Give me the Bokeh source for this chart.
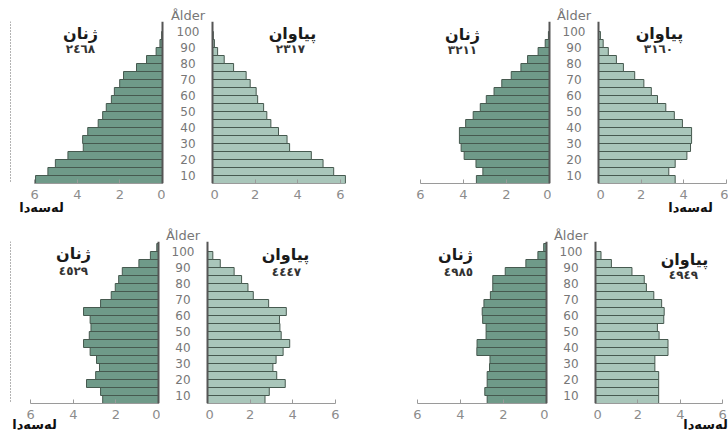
from bokeh.plotting import figure
from bokeh.models import Range1d, FixedTicker, Label, Span, ColumnDataSource, LinearAxis
from bokeh.core.properties import value
from bokeh.layouts import row, column
from bokeh.embed import file_html
from bokeh.resources import INLINE

# ---------------- data ----------------
age_group_start = [5, 10, 15, 20, 25, 30, 35, 40, 45, 50,
                   55, 60, 65, 70, 75, 80, 85, 90, 95, 100]
age_ticks = [10, 20, 30, 40, 50, 60, 70, 80, 90, 100]
pct_ticks = [0, 2, 4, 6]

women_1 = [5.96, 5.38, 5.03, 4.44, 3.72, 3.75, 3.51, 3.02, 2.81, 2.64,
           2.40, 2.26, 2.01, 1.83, 1.22, 0.75, 0.30, 0.12, 0.04, 0.0]
men_1 = [6.24, 5.69, 5.19, 4.64, 3.62, 3.50, 3.10, 2.74, 2.55, 2.40,
         2.12, 2.05, 1.77, 1.58, 0.99, 0.55, 0.24, 0.09, 0.04, 0.0]
women_2 = [3.40, 3.10, 3.42, 3.97, 4.11, 4.19, 4.19, 3.90, 3.55, 3.22,
           2.94, 2.58, 2.22, 1.78, 1.33, 1.02, 0.53, 0.20, 0.05, 0.0]
men_2 = [3.60, 3.30, 3.60, 4.15, 4.32, 4.37, 4.37, 3.94, 3.56, 3.16,
         2.77, 2.48, 2.13, 1.70, 1.17, 0.84, 0.46, 0.22, 0.09, 0.0]
women_3 = [2.62, 2.72, 3.38, 2.95, 2.77, 2.91, 3.21, 3.52, 3.25, 3.17,
           3.21, 3.52, 2.72, 2.22, 2.03, 1.87, 1.70, 0.92, 0.38, 0.08]
men_3 = [2.70, 2.90, 3.65, 3.25, 3.07, 3.22, 3.55, 3.86, 3.46, 3.40,
         3.38, 3.70, 2.87, 2.15, 1.90, 1.60, 1.25, 0.60, 0.25, 0.0]
women_4 = [2.76, 2.87, 2.76, 2.76, 2.65, 2.63, 3.24, 3.23, 2.81, 2.81,
           2.97, 2.99, 2.91, 2.61, 2.50, 2.50, 1.92, 0.96, 0.40, 0.13]
men_4 = [2.98, 2.98, 2.98, 2.98, 2.80, 2.80, 3.42, 3.42, 3.00, 2.92,
         3.22, 3.24, 3.12, 2.75, 2.40, 2.30, 1.72, 0.75, 0.26, 0.0]

women_totals = ["٢٤٦٨", "٣٢١١", "٤٥٢٩", "٤٩٨٥"]
men_totals = ["٢٣١٧", "٣١٦٠", "٤٤٤٧", "٤٩٤٩"]
women_title = "ژنان"
men_title = "پیاوان"
age_title = "Ålder"
unit_title = "لەسەدا"

# ---------------- style ----------------
WOMEN_FILL = "#6f9a89"
MEN_FILL = "#a9c6ba"
BAR_LINE = "#46594f"
VLINE = "#555555"
AXIS_GREY = "#9a9a9a"
PX_PER_YEAR = 1.6
Y_START = age_group_start[0]
GROUP = age_group_start[1] - age_group_start[0]
NUM_FONT = "DejaVu Sans"
AR_FONT = "DejaVu Sans"


def base_fig(width, height, xr, yr, top, bottom, title=""):
    p = figure(width=width, height=height, x_range=xr, y_range=yr,
               output_backend="svg", toolbar_location=None, title=title,
               x_axis_location=None, y_axis_location=None,
               min_border_left=0, min_border_right=0, min_border_top=top,
               min_border_bottom=bottom)
    p.outline_line_color = None
    p.background_fill_color = "white"
    p.border_fill_color = "white"
    p.grid.visible = False
    return p


def half_figure(values, fill, canvas, zero, scale, row_top, row_h, frame_top, frame_bottom,
                side, unit_px, unit_standoff, border_px=None):
    sgn = -1 if side == "w" else 1
    xr = Range1d(start=sgn * (canvas[0] - zero) / scale, end=sgn * (canvas[1] - zero) / scale)
    yr = Range1d(Y_START, Y_START + (frame_bottom - frame_top) / PX_PER_YEAR)
    p = base_fig(canvas[1] - canvas[0], row_h, xr, yr,
                 frame_top - row_top, row_top + row_h - frame_bottom)

    src = ColumnDataSource(dict(y=[a + GROUP / 2 for a in age_group_start], v=values))
    p.hbar(y="y", height=GROUP, left=0, right="v", source=src,
           fill_color=fill, line_color=BAR_LINE, line_width=1)

    ax = LinearAxis(ticker=FixedTicker(ticks=pct_ticks), bounds=(min(pct_ticks), max(pct_ticks)))
    ax.major_tick_in = 4
    ax.major_tick_out = 0
    ax.minor_tick_line_color = None
    ax.axis_line_color = AXIS_GREY
    ax.major_tick_line_color = AXIS_GREY
    ax.major_label_text_color = "#8c8c8c"
    ax.major_label_text_font = NUM_FONT
    ax.major_label_text_font_size = "13px"
    ax.major_label_standoff = 6
    p.add_layout(ax, "below")

    if unit_px is not None:
        ux = sgn * (unit_px - zero) / scale
        ax2 = LinearAxis(ticker=FixedTicker(ticks=[ux]), major_label_overrides={ux: unit_title})
        ax2.axis_line_color = None
        ax2.major_tick_line_color = None
        ax2.minor_tick_line_color = None
        ax2.major_tick_in = 0
        ax2.major_tick_out = 0
        ax2.major_label_text_font = AR_FONT
        ax2.major_label_text_font_style = "bold"
        ax2.major_label_text_font_size = "13px"
        ax2.major_label_text_color = "#111111"
        ax2.major_label_standoff = unit_standoff
        p.add_layout(ax2, "below")

    p.add_layout(Span(location=0, dimension="height", line_color=VLINE, line_width=2))
    if border_px is not None:
        p.add_layout(Span(location=sgn * (border_px - zero) / scale, dimension="height",
                          line_color="#666666", line_width=1, line_dash="1 2"))

    def to_data(px, py):
        return sgn * (px - zero) / scale, Y_START + (frame_bottom - py) / PX_PER_YEAR

    return p, to_data


def mid_figure(canvas, row_top, row_h, frame_top, frame_bottom):
    xr = Range1d(canvas[0], canvas[1])
    yr = Range1d(Y_START, Y_START + (frame_bottom - frame_top) / PX_PER_YEAR)
    p = base_fig(canvas[1] - canvas[0], row_h, xr, yr,
                 frame_top - row_top, row_top + row_h - frame_bottom, title=age_title)
    p.title.align = "center"
    p.title.text_font = NUM_FONT
    p.title.text_font_size = "13px"
    p.title.text_font_style = "normal"
    p.title.text_color = "#777777"
    p.title.standoff = -3
    p.title.offset = 2
    cx = (canvas[0] + canvas[1]) / 2
    src = ColumnDataSource(dict(y=age_ticks, t=[str(a) for a in age_ticks]))
    p.text(x=cx, y="y", text="t", source=src, text_align="center", text_baseline="middle",
           text_font=value(NUM_FONT), text_font_size="12px", text_color="#777777")
    return p


def add_text(p, conv, pos, text, size, color="#1a1a1a"):
    x, y = conv(*pos)
    p.add_layout(Label(x=x, y=y, text=text, text_align="center", text_baseline="middle",
                       text_font=AR_FONT, text_font_size=size, text_font_style="bold",
                       text_color=color))


ROW_H = [220, 214]
ROW_TOP = [0, 220]
FRAME_TOP = [21, 241]
FRAME_BOTTOM = [183, 403]

panels = [
    dict(women=women_1, men=men_1, r=0,
         wc=(0, 165), wz=162, ws=21.3, mid=(165, 210), mc=(210, 360), mz=212, ms=21.3,
         w_title=(80, 33), w_num=(80, 48), m_title=(292, 33), m_num=(290, 48),
         unit=(41, "w"), ustand=-2, border=10),
    dict(women=women_2, men=men_2, r=0,
         wc=(360, 551), wz=549, ws=21.5, mid=(551, 596), mc=(596, 728), mz=598, ms=21.3,
         w_title=(462, 34), w_num=(462, 49), m_title=(659, 33), m_num=(658, 48),
         unit=(690, "m"), ustand=-2, border=None),
    dict(women=women_3, men=men_3, r=1,
         wc=(0, 160), wz=158, ws=21.3, mid=(160, 205), mc=(205, 360), mz=207, ms=21.3,
         w_title=(73, 253), w_num=(73, 270), m_title=(285, 254), m_num=(286, 271),
         unit=(34, "w"), ustand=-5, border=10),
    dict(women=women_4, men=men_4, r=1,
         wc=(360, 548), wz=546, ws=21.5, mid=(548, 593), mc=(593, 728), mz=595, ms=21.2,
         w_title=(455, 254), w_num=(458, 271), m_title=(684, 259), m_num=(683, 274),
         unit=(705, "m"), ustand=-5, border=None),
]

rows = [[], []]
for i, s in enumerate(panels):
    r = s["r"]
    geo = (ROW_TOP[r], ROW_H[r], FRAME_TOP[r], FRAME_BOTTOM[r])
    upx, uside = s["unit"]
    pw, cw = half_figure(s["women"], WOMEN_FILL, s["wc"], s["wz"], s["ws"], *geo, "w",
                         upx if uside == "w" else None, s["ustand"], s["border"])
    pm, cm = half_figure(s["men"], MEN_FILL, s["mc"], s["mz"], s["ms"], *geo, "m",
                         upx if uside == "m" else None, s["ustand"])
    mid = mid_figure(s["mid"], *geo)
    add_text(pw, cw, s["w_title"], women_title, "16px")
    add_text(pw, cw, s["w_num"], women_totals[i], "12px", color="#333333")
    add_text(pm, cm, s["m_title"], men_title, "16px")
    add_text(pm, cm, s["m_num"], men_totals[i], "12px", color="#333333")
    rows[r] += [pw, mid, pm]

layout = column(row(*rows[0]), row(*rows[1]))

open("out.html", "w").write(file_html(layout, INLINE))
